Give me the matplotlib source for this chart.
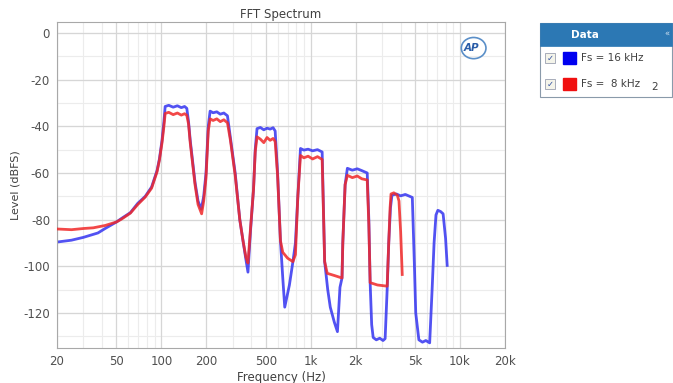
#!/usr/bin/env python3
"""
FFT Spectrum of two sample-rate settings, log frequency axis.
"""

import matplotlib
matplotlib.use("Agg")
import matplotlib.pyplot as plt
from matplotlib.patches import Rectangle, Ellipse

# Fs = 16 kHz trace (blue): frequency (Hz), level (dBFS)
blue_f = [20, 25, 30, 37.6, 42, 50, 54, 62, 69.5, 78, 86, 93.5, 97, 101, 104,
          106, 112, 120, 128, 136, 143, 148, 152, 156, 168, 176, 185, 192,
          199, 206, 212, 222, 235, 248, 262, 277, 290, 312, 335, 352, 368,
          380, 395, 414, 425, 437, 460, 485, 510, 535, 560, 578, 600, 627,
          650, 670, 720, 760, 790, 820, 854, 900, 960, 1030, 1110, 1193,
          1240, 1300, 1352, 1440, 1510, 1570, 1620, 1640, 1700, 1760, 1900,
          2050, 2200, 2390, 2450, 2500, 2560, 2620, 2750, 2900, 3050, 3150,
          3250, 3330, 3420, 3500, 3750, 4000, 4300, 4600, 4790, 4950, 5050,
          5300, 5600, 5900, 6260, 6500, 6700, 6900, 7100, 7400, 7700, 8000,
          8200]
blue_db = [-89.6, -88.8, -87.6, -85.7, -83.8, -81, -79.5, -77, -73, -70,
           -66, -59, -54, -46, -38, -31.5, -31, -31.8, -31.2, -32, -31.5,
           -32.3, -38, -46, -64, -72, -75.5, -70, -60, -40, -33.5, -34.2,
           -33.8, -34.8, -34.3, -35.5, -45, -60, -80, -89, -97, -102.5, -85,
           -67, -50, -41, -40.5, -41.5, -40.8, -41.2, -40.6, -42, -60, -89,
           -105, -117.5, -108, -98, -90, -70, -49.5, -50.2, -49.8, -50.5,
           -50, -51, -98, -110, -117.5, -124, -128, -109, -105, -90, -65, -58,
           -58.8, -58.2, -59, -60, -80, -107, -125, -130.5, -131.5, -130.8,
           -131.8, -131, -110, -90, -75, -69.5, -69, -69.8, -69.2, -70, -70.5,
           -100, -120, -131.5, -132.5, -131.8, -132.8, -110, -90, -78, -76,
           -76.5, -77.5, -88, -99.6]

# Fs = 8 kHz trace (red)
red_f = [20, 25, 30, 35, 42, 50, 54, 62, 69.5, 78, 86, 93.5, 97, 101, 104,
         106, 112, 120, 128, 136, 143, 148, 152, 156, 168, 176, 186, 192,
         199, 206, 212, 222, 235, 248, 262, 277, 290, 312, 335, 352, 368,
         380, 395, 414, 425, 437, 460, 485, 510, 535, 560, 578, 600, 627,
         650, 700, 760, 790, 820, 854, 900, 960, 1030, 1110, 1193, 1240,
         1290, 1450, 1620, 1640, 1700, 1760, 1900, 2050, 2200, 2390, 2450,
         2500, 2800, 3250, 3330, 3400, 3450, 3600, 3800, 3900, 4000, 4100]
red_db = [-84, -84.3, -83.8, -83.5, -82.5, -81, -79.8, -77.2, -73.5, -70.3,
          -66.5, -59.5, -54.5, -47, -40, -34.5, -34, -35, -34.3, -35.2,
          -34.6, -35.3, -39, -47, -65, -73.5, -77.5, -72, -62, -42, -36.8,
          -37.5, -36.8, -38, -37.2, -38.5, -46, -61, -80, -89, -96, -98.6,
          -84, -67, -51, -44.5, -45.5, -47, -44.8, -46, -45.2, -46.5, -61,
          -89, -94, -96.5, -98, -95, -70, -52.5, -53.5, -52.8, -54, -53,
          -54.2, -98, -103, -104, -105, -90, -65, -61, -62, -61.3, -62.5,
          -63, -82, -107, -108, -108.5, -90, -75, -69, -68.5, -69.5, -72,
          -85, -103.5]

ytick_vals = [0, -20, -40, -60, -80, -100, -120]
xtick_vals = [20, 50, 100, 200, 500, 1000, 2000, 5000, 10000, 20000]
xtick_labels = ["20", "50", "100", "200", "500", "1k", "2k", "5k", "10k", "20k"]
legend_labels = ["Fs = 16 kHz", "Fs =  8 kHz"]

plt.rcParams["axes.unicode_minus"] = False

fig = plt.figure(figsize=(6.73, 3.83), dpi=100)
ax = fig.add_axes([57 / 673, 1 - 348 / 383, 448 / 673, 326 / 383])

# minor grid (every 10 dB, and 1-2-3..9 per decade)
minor_x = [m * d for d in (10, 100, 1000, 10000) for m in range(1, 10)]
for xv in minor_x:
    if 20 <= xv <= 20000 and xv not in xtick_vals:
        ax.axvline(xv, color="#ececec", lw=0.8, zorder=0)
for yv in range(-130, 10, 10):
    ax.axhline(yv, color="#ececec", lw=0.8, zorder=0)
for xv in xtick_vals:
    ax.axvline(xv, color="#d6d6d6", lw=0.9, zorder=0)
for yv in ytick_vals:
    ax.axhline(yv, color="#d6d6d6", lw=0.9, zorder=0)

ax.plot(blue_f, blue_db, color="#3434f0", lw=2.0, alpha=0.85, zorder=2)
ax.plot(red_f, red_db, color="#f02828", lw=2.0, alpha=0.85, zorder=3)

ax.set_xscale("log")
ax.set_xlim(20, 20000)
ax.set_ylim(-135, 4.7)
ax.set_xticks(xtick_vals)
ax.set_xticklabels(xtick_labels)
ax.minorticks_off()
ax.set_yticks(ytick_vals)
ax.tick_params(length=0, labelsize=8.5, colors="#505050", pad=5)
for s in ax.spines.values():
    s.set_color("#a8a8a8")
ax.set_title("FFT Spectrum", fontsize=8.5, color="#404040", pad=3)
ax.set_xlabel("Frequency (Hz)", fontsize=8.5, color="#404040", labelpad=2)
ax.set_ylabel("Level (dBFS)", fontsize=8, color="#404040", labelpad=2)

# AP logo
ax.add_patch(Ellipse((0.93, 0.92), 0.055, 0.065, transform=ax.transAxes,
                     fill=False, ec="#5b8fc8", lw=1.2))
ax.text(0.925, 0.92, "AP", transform=ax.transAxes, fontsize=7.5,
        fontweight="bold", style="italic", color="#2a5da8",
        ha="center", va="center")

# legend panel
W, H = 673.0, 383.0
def fx(px):
    return px / W
def fy(py):
    return 1 - py / H

fig.patches.append(Rectangle((fx(540), fy(97)), fx(672) - fx(540),
                             fy(23) - fy(97), transform=fig.transFigure,
                             facecolor="white", edgecolor="#8a9aaa", lw=0.8))
fig.patches.append(Rectangle((fx(540), fy(46)), fx(672) - fx(540),
                             fy(23) - fy(46), transform=fig.transFigure,
                             facecolor="#2c78b4", edgecolor="#2c78b4", lw=0.5))
fig.text(fx(585), fy(34.5), "Data", color="white", fontsize=7.5,
         fontweight="bold", ha="center", va="center")
fig.text(fx(667), fy(34.5), "\u00ab", color="#cfe0f0", fontsize=6,
         ha="center", va="center")
for i, (lab, col) in enumerate(zip(legend_labels, ["#0000f0", "#f01010"])):
    yc = 58 + i * 26
    fig.patches.append(Rectangle((fx(545), fy(yc + 5)), fx(10), fy(0) - fy(10),
                                 transform=fig.transFigure, facecolor="#f4f4ea",
                                 edgecolor="#9aa0b0", lw=0.6))
    fig.text(fx(550), fy(yc), "\u2713", color="#3050a0", fontsize=6,
             ha="center", va="center")
    fig.patches.append(Rectangle((fx(563), fy(yc + 6)), fx(13), fy(0) - fy(12),
                                 transform=fig.transFigure, facecolor=col,
                                 edgecolor=col))
    fig.text(fx(581), fy(yc), lab, color="#404040", fontsize=7.5,
             ha="left", va="center")
fig.text(fx(651), fy(87), "2", color="#404040", fontsize=7.5,
         ha="left", va="center")

fig.savefig("out.png", dpi=100)
